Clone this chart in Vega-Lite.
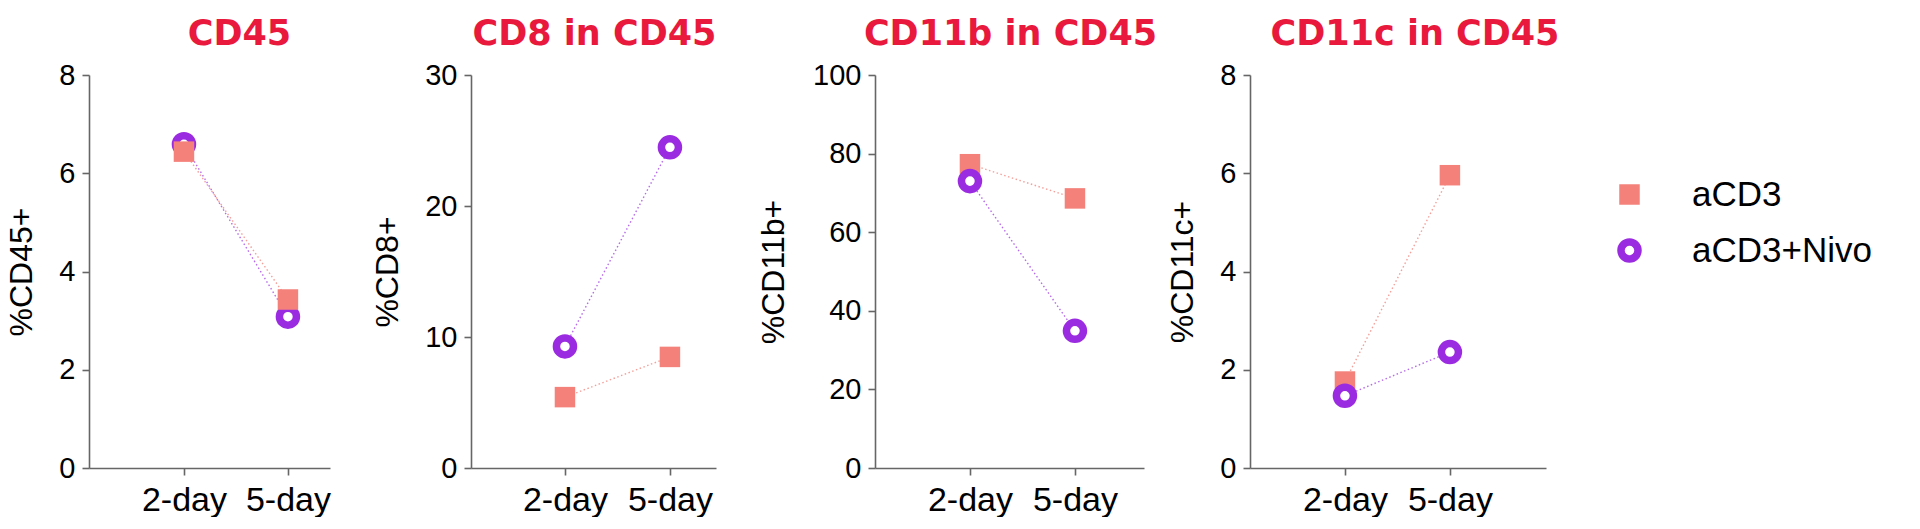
{
  "$schema": "https://vega.github.io/schema/vega-lite/v6.json",
  "background": "white",
  "padding": {"left": 5, "top": 17, "right": 5, "bottom": 0},
  "data": {
    "values": [
      {"panel": "CD45", "day": "2-day", "group": "aCD3+Nivo", "value": 6.59},
      {"panel": "CD45", "day": "5-day", "group": "aCD3+Nivo", "value": 3.08},
      {"panel": "CD45", "day": "2-day", "group": "aCD3", "value": 6.44},
      {"panel": "CD45", "day": "5-day", "group": "aCD3", "value": 3.43},
      {"panel": "CD8", "day": "2-day", "group": "aCD3", "value": 5.41},
      {"panel": "CD8", "day": "5-day", "group": "aCD3", "value": 8.48},
      {"panel": "CD8", "day": "2-day", "group": "aCD3+Nivo", "value": 9.28},
      {"panel": "CD8", "day": "5-day", "group": "aCD3+Nivo", "value": 24.48},
      {"panel": "CD11b", "day": "2-day", "group": "aCD3", "value": 77.3},
      {"panel": "CD11b", "day": "5-day", "group": "aCD3", "value": 68.6},
      {"panel": "CD11b", "day": "2-day", "group": "aCD3+Nivo", "value": 73.0},
      {"panel": "CD11b", "day": "5-day", "group": "aCD3+Nivo", "value": 34.9},
      {"panel": "CD11c", "day": "2-day", "group": "aCD3", "value": 1.76},
      {"panel": "CD11c", "day": "5-day", "group": "aCD3", "value": 5.96},
      {"panel": "CD11c", "day": "2-day", "group": "aCD3+Nivo", "value": 1.47},
      {"panel": "CD11c", "day": "5-day", "group": "aCD3+Nivo", "value": 2.36}
    ]
  },
  "spacing": 8,
  "hconcat": [
    {
      "spacing": 40,
      "hconcat": [
        {
          "title": {"text": "CD45", "dx": 30},
          "width": 241,
          "height": 393,
          "transform": [{"filter": "datum.panel === 'CD45'"}],
          "encoding": {
            "x": {"field": "day", "type": "ordinal", "scale": {"type": "point", "domain": ["2-day", "5-day"], "padding": 0.659, "align": 0.693}, "axis": {"title": null}},
            "y": {"field": "value", "type": "quantitative", "scale": {"domain": [0, 8], "nice": false}, "axis": {"values": [0, 2, 4, 6, 8], "title": "%CD45+"}}
          },
          "layer": [
            {"transform": [{"filter": "datum.group === 'aCD3'"}], "mark": {"type": "line", "strokeDash": [1.5, 2.5], "strokeWidth": 1.4, "color": "#F4A09A"}, "encoding": {}},
            {"transform": [{"filter": "datum.group === 'aCD3+Nivo'"}], "mark": {"type": "line", "strokeDash": [1.5, 2.5], "strokeWidth": 1.4, "color": "#B66BE8"}, "encoding": {}},
            {"mark": {"type": "point", "opacity": 1},
             "encoding": {
               "shape": {"field": "group", "type": "nominal", "scale": {"domain": ["aCD3", "aCD3+Nivo"], "range": ["square", "circle"]},
                 "legend": {"title": null, "orient": "none", "legendX": 1523, "legendY": 102, "labelFont": "Liberation Sans", "labelFontSize": 35, "labelColor": "#000000", "labelLimit": 400, "rowPadding": 13, "labelOffset": 45, "padding": 0, "symbolOpacity": 1}},
               "fill": {"field": "group", "type": "nominal", "scale": {"domain": ["aCD3", "aCD3+Nivo"], "range": ["#F4817A", "#FFFFFF"]}},
               "stroke": {"field": "group", "type": "nominal", "scale": {"domain": ["aCD3", "aCD3+Nivo"], "range": ["#F4817A", "#9B2BE0"]}},
               "strokeWidth": {"field": "group", "type": "nominal", "scale": {"domain": ["aCD3", "aCD3+Nivo"], "range": [0, 7.5]}},
               "size": {"field": "group", "type": "nominal", "scale": {"domain": ["aCD3", "aCD3+Nivo"], "range": [420, 290]}}
             }}
          ]
        },
        {
          "title": {"text": "CD8 in CD45", "dx": 1},
          "width": 245,
          "height": 393,
          "transform": [{"filter": "datum.panel === 'CD8'"}],
          "encoding": {
            "x": {"field": "day", "type": "ordinal", "scale": {"type": "point", "domain": ["2-day", "5-day"], "padding": 0.667, "align": 0.671}, "axis": {"title": null}},
            "y": {"field": "value", "type": "quantitative", "scale": {"domain": [0, 30], "nice": false}, "axis": {"values": [0, 10, 20, 30], "title": "%CD8+"}}
          },
          "layer": [
            {"transform": [{"filter": "datum.group === 'aCD3'"}], "mark": {"type": "line", "strokeDash": [1.5, 2.5], "strokeWidth": 1.4, "color": "#F4A09A"}, "encoding": {}},
            {"transform": [{"filter": "datum.group === 'aCD3+Nivo'"}], "mark": {"type": "line", "strokeDash": [1.5, 2.5], "strokeWidth": 1.4, "color": "#B66BE8"}, "encoding": {}},
            {"mark": {"type": "point", "opacity": 1},
             "encoding": {
               "shape": {"field": "group", "type": "nominal", "scale": {"domain": ["aCD3", "aCD3+Nivo"], "range": ["square", "circle"]}},
               "fill": {"field": "group", "type": "nominal", "scale": {"domain": ["aCD3", "aCD3+Nivo"], "range": ["#F4817A", "#FFFFFF"]}},
               "stroke": {"field": "group", "type": "nominal", "scale": {"domain": ["aCD3", "aCD3+Nivo"], "range": ["#F4817A", "#9B2BE0"]}},
               "strokeWidth": {"field": "group", "type": "nominal", "scale": {"domain": ["aCD3", "aCD3+Nivo"], "range": [0, 7.5]}},
               "size": {"field": "group", "type": "nominal", "scale": {"domain": ["aCD3", "aCD3+Nivo"], "range": [420, 290]}}
             }}
          ]
        },
        {
          "title": {"text": "CD11b in CD45", "dx": 1},
          "width": 269,
          "height": 393,
          "transform": [{"filter": "datum.panel === 'CD11b'"}],
          "encoding": {
            "x": {"field": "day", "type": "ordinal", "scale": {"type": "point", "domain": ["2-day", "5-day"], "padding": 0.781, "align": 0.579}, "axis": {"title": null}},
            "y": {"field": "value", "type": "quantitative", "scale": {"domain": [0, 100], "nice": false}, "axis": {"values": [0, 20, 40, 60, 80, 100], "title": "%CD11b+", "titlePadding": 22}}
          },
          "layer": [
            {"transform": [{"filter": "datum.group === 'aCD3'"}], "mark": {"type": "line", "strokeDash": [1.5, 2.5], "strokeWidth": 1.4, "color": "#F4A09A"}, "encoding": {}},
            {"transform": [{"filter": "datum.group === 'aCD3+Nivo'"}], "mark": {"type": "line", "strokeDash": [1.5, 2.5], "strokeWidth": 1.4, "color": "#B66BE8"}, "encoding": {}},
            {"mark": {"type": "point", "opacity": 1},
             "encoding": {
               "shape": {"field": "group", "type": "nominal", "scale": {"domain": ["aCD3", "aCD3+Nivo"], "range": ["square", "circle"]}},
               "fill": {"field": "group", "type": "nominal", "scale": {"domain": ["aCD3", "aCD3+Nivo"], "range": ["#F4817A", "#FFFFFF"]}},
               "stroke": {"field": "group", "type": "nominal", "scale": {"domain": ["aCD3", "aCD3+Nivo"], "range": ["#F4817A", "#9B2BE0"]}},
               "strokeWidth": {"field": "group", "type": "nominal", "scale": {"domain": ["aCD3", "aCD3+Nivo"], "range": [0, 7.5]}},
               "size": {"field": "group", "type": "nominal", "scale": {"domain": ["aCD3", "aCD3+Nivo"], "range": [420, 290]}}
             }}
          ]
        }
      ]
    },
    {
      "title": {"text": "CD11c in CD45", "dx": 17},
      "width": 296,
      "height": 393,
      "transform": [{"filter": "datum.panel === 'CD11c'"}],
      "encoding": {
        "x": {"field": "day", "type": "ordinal", "scale": {"type": "point", "domain": ["2-day", "5-day"], "padding": 0.91, "align": 0.497}, "axis": {"title": null}},
        "y": {"field": "value", "type": "quantitative", "scale": {"domain": [0, 8], "nice": false}, "axis": {"values": [0, 2, 4, 6, 8], "title": "%CD11c+"}}
      },
      "layer": [
        {"transform": [{"filter": "datum.group === 'aCD3'"}], "mark": {"type": "line", "strokeDash": [1.5, 2.5], "strokeWidth": 1.4, "color": "#F4A09A"}, "encoding": {}},
        {"transform": [{"filter": "datum.group === 'aCD3+Nivo'"}], "mark": {"type": "line", "strokeDash": [1.5, 2.5], "strokeWidth": 1.4, "color": "#B66BE8"}, "encoding": {}},
        {"mark": {"type": "point", "opacity": 1},
         "encoding": {
           "shape": {"field": "group", "type": "nominal", "scale": {"domain": ["aCD3", "aCD3+Nivo"], "range": ["square", "circle"]}},
           "fill": {"field": "group", "type": "nominal", "scale": {"domain": ["aCD3", "aCD3+Nivo"], "range": ["#F4817A", "#FFFFFF"]}},
           "stroke": {"field": "group", "type": "nominal", "scale": {"domain": ["aCD3", "aCD3+Nivo"], "range": ["#F4817A", "#9B2BE0"]}},
           "strokeWidth": {"field": "group", "type": "nominal", "scale": {"domain": ["aCD3", "aCD3+Nivo"], "range": [0, 7.5]}},
           "size": {"field": "group", "type": "nominal", "scale": {"domain": ["aCD3", "aCD3+Nivo"], "range": [420, 290]}}
         }}
      ]
    }
  ],
  "config": {
    "view": {"stroke": null},
    "title": {"font": "DejaVu Sans", "fontSize": 35, "fontWeight": "bold", "color": "#E8193C", "anchor": "middle", "offset": 9},
    "axis": {"grid": false, "domainColor": "#666666", "domainWidth": 1.6, "tickColor": "#666666", "tickWidth": 1.6, "tickSize": 7, "labelFont": "Liberation Sans", "labelColor": "#000000", "titleFont": "Liberation Sans", "titleColor": "#000000", "titleFontWeight": "normal"},
    "axisY": {"labelFontSize": 29, "labelPadding": 7, "titleFontSize": 32, "titlePadding": 20},
    "axisX": {"labelFontSize": 34, "labelAngle": 0, "labelPadding": 8, "labelBaseline": "top"}
  }
}
